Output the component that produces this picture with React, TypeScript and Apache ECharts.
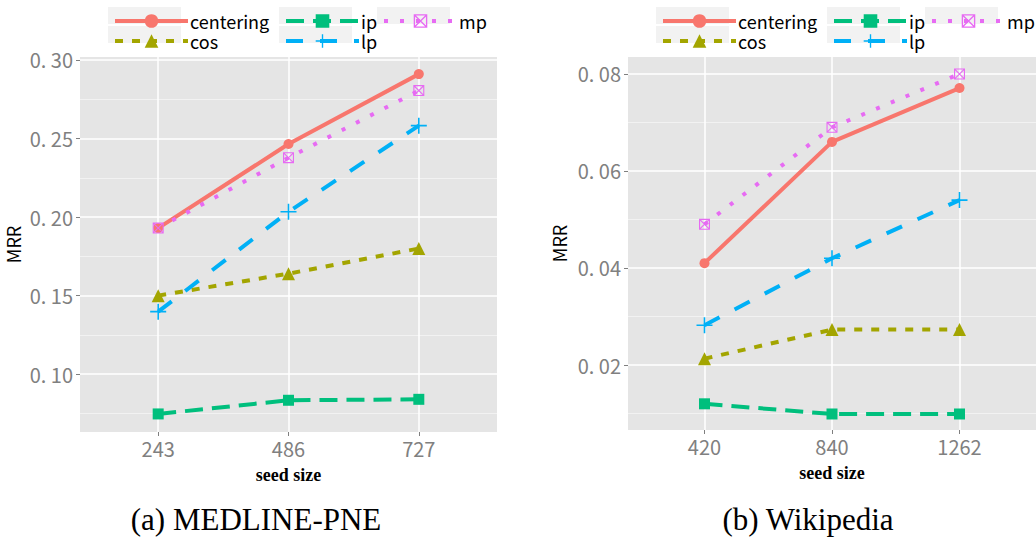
import React, { useEffect, useRef } from 'react';
import * as echarts from 'echarts';

// ---- data ----
const seriesNames = ['centering', 'cos', 'ip', 'lp', 'mp'];

const medlineSeeds = ['243', '486', '727'];
const medlineCentering = [0.193, 0.2465, 0.291];
const medlineCos = [0.150, 0.164, 0.180];
const medlineIp = [0.0747, 0.0834, 0.084];
const medlineLp = [0.1398, 0.2034, 0.2582];
const medlineMp = [0.193, 0.2378, 0.2805];
const medlineMajorTicks = [0.1, 0.15, 0.2, 0.25, 0.3];
const medlineMinorTicks = [0.075, 0.125, 0.175, 0.225, 0.275];

const wikiSeeds = ['420', '840', '1262'];
const wikiCentering = [0.041, 0.066, 0.0771];
const wikiCos = [0.0213, 0.0273, 0.0273];
const wikiIp = [0.012, 0.0099, 0.0099];
const wikiLp = [0.0282, 0.042, 0.054];
const wikiMp = [0.049, 0.069, 0.08];
const wikiMajorTicks = [0.02, 0.04, 0.06, 0.08];
const wikiMinorTicks = [0.01, 0.03, 0.05, 0.07];

const captions = ['(a) MEDLINE-PNE', '(b) Wikipedia'];

// ---- styles ----
const NARROW = "'Noto Sans CJK JP', 'Roboto', sans-serif";
const LEGEND_FONT = "'Noto Sans CJK JP', 'Roboto', sans-serif";
const SERIF = "'Liberation Serif', 'Times New Roman', serif";

const PLUS = 'path://M-1,-10H1V-1H10V1H1V10H-1V1H-10V-1H-1Z';
const BOXX =
  'path://M-10,-10H10V10H-10Z M-8,-8V8H8V-8Z M-8.6,-10L10,8.6L8.6,10L-10,-8.6Z M8.6,-10L10,-8.6L-8.6,10L-10,8.6Z';

const look: Record<string, any> = {
  centering: { color: '#F8766D', symbol: 'circle', size: 10, dash: 'solid' },
  cos: { color: '#A3A500', symbol: 'triangle', size: 13, dash: [8, 9] },
  ip: { color: '#00BF7D', symbol: 'rect', size: 11, dash: [18, 9] },
  lp: { color: '#00B0F6', symbol: PLUS, size: 16, dash: [17, 17] },
  mp: { color: '#E76BF3', symbol: BOXX, size: 11, dash: [4, 12] },
};

function buildOption() {
  const panels = [
    {
      seeds: medlineSeeds,
      values: [medlineCentering, medlineCos, medlineIp, medlineLp, medlineMp],
      yMin: 0.0632, yMax: 0.3019,
      major: medlineMajorTicks, minor: medlineMinorTicks,
      left: 80, top: 57, height: 375, nameGap: 58,
      cols: [108, 279, 377],
      capX: 256,
    },
    {
      seeds: wikiSeeds,
      values: [wikiCentering, wikiCos, wikiIp, wikiLp, wikiMp],
      yMin: 0.0066, yMax: 0.0835,
      major: wikiMajorTicks, minor: wikiMinorTicks,
      left: 628, top: 57, height: 373, nameGap: 60,
      cols: [656, 827, 925],
      capX: 808,
    },
  ];

  const grid: any[] = [];
  const xAxis: any[] = [];
  const yAxis: any[] = [];
  const series: any[] = [];
  const legend: any[] = [];
  const graphic: any[] = [];

  const tickStyle = { color: '#7F7F7F', width: 1 };
  const labelBase = { color: '#808080', fontSize: 20, fontFamily: NARROW };

  panels.forEach((p, idx) => {
    grid.push({
      left: p.left, top: p.top, width: 417, height: p.height,
      show: true, backgroundColor: '#E5E5E5', borderWidth: 0,
    });
    xAxis.push({
      gridIndex: idx, type: 'value', min: 0.4, max: 3.6,
      axisLine: { show: false },
      axisTick: { show: true, customValues: [1, 2, 3], length: 4, lineStyle: tickStyle },
      axisLabel: {
        ...labelBase, customValues: [1, 2, 3], margin: 6,
        formatter: (v: number) => p.seeds[Math.round(v) - 1] ?? '',
      },
      splitLine: { show: true, lineStyle: { color: '#FFFFFF', width: 1.5 } },
      name: 'seed size', nameLocation: 'middle', nameGap: 34,
      nameTextStyle: { fontFamily: SERIF, fontWeight: 'bold', fontSize: 18, color: '#000' },
    });
    yAxis.push({
      gridIndex: idx, type: 'value', min: p.yMin, max: p.yMax,
      axisLine: { show: false },
      axisTick: { show: true, customValues: p.major, length: 4, lineStyle: tickStyle },
      axisLabel: {
        ...labelBase, customValues: p.major, margin: 7,
        formatter: (v: number) => v.toFixed(2).replace('.', '. '),
      },
      splitLine: { show: true, lineStyle: { color: '#FFFFFF', width: 1.5 } },
      name: 'MRR', nameLocation: 'middle', nameRotate: 90, nameGap: p.nameGap,
      nameTextStyle: { fontFamily: NARROW, fontSize: 18, color: '#000' },
    });
    yAxis.push({
      gridIndex: idx, type: 'value', min: p.yMin, max: p.yMax, position: 'left',
      axisLine: { show: false },
      axisTick: { show: false, customValues: p.minor },
      axisLabel: { show: false, customValues: p.minor },
      splitLine: { show: true, lineStyle: { color: '#F2F2F2', width: 1 } },
    });

    seriesNames.forEach((name, si) => {
      const l = look[name];
      series.push({
        type: 'line', name,
        xAxisIndex: idx, yAxisIndex: idx * 2,
        data: p.values[si].map((v, i) => [i + 1, v]),
        symbol: l.symbol, symbolSize: l.size,
        itemStyle: { color: l.color },
        lineStyle: { color: l.color, width: 4, type: l.dash },
        clip: false,
      });
    });

    const colItems = [['centering', 'cos'], ['ip', 'lp'], ['mp']];
    colItems.forEach((items, ci) => {
      legend.push({
        data: items, left: p.cols[ci], top: 7, orient: 'vertical',
        itemWidth: 73, itemHeight: 17, itemGap: 2, selectedMode: false,
        lineStyle: { width: 4 },
        textStyle: {
          fontFamily: LEGEND_FONT, fontSize: 18, lineHeight: 17, color: '#000',
          padding: [0, 0, 0, -3],
        },
      });
      items.forEach((_, ri) => {
        graphic.push({
          type: 'rect', z: 0,
          shape: { x: p.cols[ci], y: 7 + ri * 19, width: 73, height: 17 },
          style: { fill: '#F2F2F2' },
        });
      });
    });

    graphic.push({
      type: 'text', x: p.capX, y: 519,
      style: {
        text: captions[idx], fill: '#000', fontSize: 31, fontFamily: SERIF,
        align: 'center', verticalAlign: 'middle',
      },
    });
  });

  return {
    animation: false,
    backgroundColor: '#FFFFFF',
    grid, xAxis, yAxis, series, legend, graphic,
  };
}

export default function App() {
  const ref = useRef<HTMLDivElement>(null);
  useEffect(() => {
    if (!ref.current) return;
    const chart = echarts.init(ref.current, null, { renderer: 'svg' });
    chart.setOption(buildOption() as any);
    return () => chart.dispose();
  }, []);
  return (
    <div
      ref={ref}
      style={{ position: 'fixed', left: 0, top: 0, width: 1036, height: 540 }}
    />
  );
}
